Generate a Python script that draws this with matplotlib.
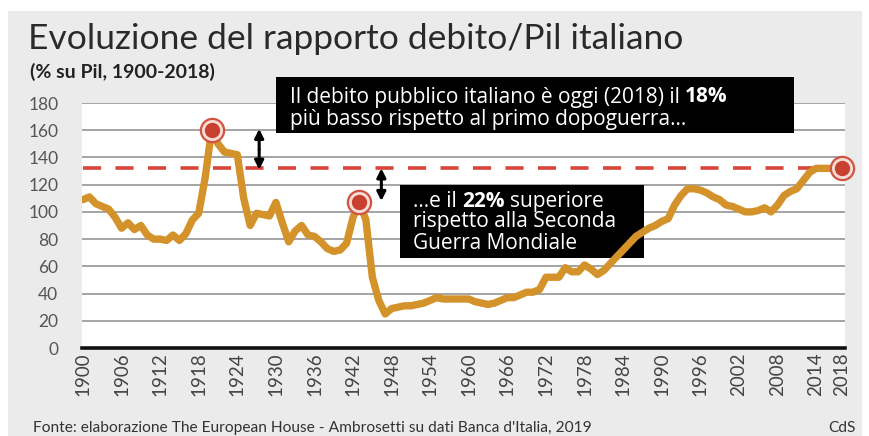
import matplotlib
matplotlib.use("Agg")
import matplotlib.pyplot as plt
from matplotlib.patches import Rectangle

# debito/Pil italiano, valori
years = list(range(1900, 2019))
debt = [109, 111, 106, 104, 102, 96, 88, 92, 87, 90,
        83, 80, 80, 79, 83, 79, 84, 94, 99, 125,
        160, 150, 144, 143, 142, 110, 90, 99, 98, 97,
        107, 92, 78, 86, 90, 83, 82, 78, 73, 71,
        72, 77, 96, 107, 94, 52, 35, 25, 29, 30,
        31, 31, 32, 33, 35, 37, 36, 36, 36, 36,
        36, 34, 33, 32, 33, 35, 37, 37, 39, 41,
        41, 43, 52, 52, 52, 59, 56, 56, 61, 58,
        54, 57, 62, 67, 72, 77, 82, 85, 88, 90,
        93, 95, 105, 112, 117, 117, 116, 114, 111, 109,
        105, 104, 102, 100, 100, 101, 103, 100, 105, 112,
        115, 117, 123, 129, 132, 132, 132, 132, 132]
highlight_years = [1920, 1943, 2018]
ref_level = 132
xtick_years = list(range(1900, 2015, 6)) + [2018]

W, H = 870, 436
FONT = "Lato"
BOXFONT = "Open Sans"
LINE = "#d4922a"


def fx(px):
    return px / W


def fy(py):
    return 1 - py / H


fig = plt.figure(figsize=(W / 100, H / 100), dpi=100)
fig.patch.set_facecolor("white")
fig.patches.append(Rectangle((fx(8), 0), fx(854), fy(11), transform=fig.transFigure,
                             facecolor="#ebebeb", edgecolor="none", zorder=-10))

ax = fig.add_axes([fx(82), fy(348), fx(845) - fx(82), fy(103) - fy(348)])
ax.set_facecolor("white")
ax.set_xlim(1899.85, 2018.5)
ax.set_ylim(0, 180)

for v in range(20, 181, 20):
    ax.axhline(v, color="#8c8c8c", lw=1.1, zorder=1)
for s in ["top", "right", "left"]:
    ax.spines[s].set_visible(False)
ax.spines["bottom"].set_linewidth(2.6)
ax.spines["bottom"].set_color("#111111")
ax.spines["bottom"].set_zorder(5)

ax.set_yticks(range(0, 181, 20))
ax.set_xticks(xtick_years)
ax.set_xticklabels([str(y) for y in xtick_years], rotation=90)
ax.tick_params(axis="y", length=0, pad=17, labelsize=12.5, labelcolor="#555555")
ax.tick_params(axis="x", length=0, pad=3, labelsize=13.5, labelcolor="#444444")
for lab in ax.get_xticklabels() + ax.get_yticklabels():
    lab.set_fontfamily(FONT)

# linea tratteggiata al livello del 2018
ax.plot([years[0], years[-1]], [ref_level, ref_level], color="#d8453a", lw=2.6,
        dashes=(5, 4), zorder=2)

ax.plot(years, debt, color=LINE, lw=5.3, solid_joinstyle="round",
        solid_capstyle="round", zorder=4)

hv = [debt[years.index(y)] for y in highlight_years]
ax.scatter(highlight_years, hv, s=280, facecolor="#f6dcd5", edgecolor="#cf5443",
           lw=1.6, zorder=6, clip_on=False)
ax.scatter(highlight_years, hv, s=100, color="#c8402f", zorder=7, clip_on=False)

# frecce doppie
arrow_style = dict(arrowstyle="-|>", color="black", lw=2.2, mutation_scale=13,
                   shrinkA=0, shrinkB=0)
for xa, top, bottom in [(1927.4, 161, 131), (1946.4, 132, 108)]:
    mid = (top + bottom) / 2
    ax.annotate("", xy=(xa, top), xytext=(xa, mid), arrowprops=arrow_style, zorder=8)
    ax.annotate("", xy=(xa, bottom), xytext=(xa, mid), arrowprops=arrow_style, zorder=8)

# riquadri neri
box1 = Rectangle((fx(276), fy(133)), fx(794) - fx(276), fy(77) - fy(133),
                 transform=fig.transFigure, facecolor="black", edgecolor="none", zorder=2)
fig.patches.append(box1)
box2 = Rectangle((fx(400), fy(258)), fx(644) - fx(400), fy(185) - fy(258),
                 transform=fig.transFigure, facecolor="black", edgecolor="none",
                 zorder=3, clip_on=False)
ax.add_patch(box2)

renderer = fig.canvas.get_renderer()


def width_px(s, weight, size):
    t = fig.text(0, 0, s, fontsize=size, fontfamily=BOXFONT, fontweight=weight)
    w = t.get_window_extent(renderer).width
    t.remove()
    return w


def rich(px, py, parts, size=15, color="white", target=None):
    space = width_px("a a", "normal", size) - width_px("aa", "normal", size)
    x = px
    for s, weight in parts:
        if target is None:
            t = fig.text(fx(x), fy(py), s, fontsize=size, fontfamily=BOXFONT,
                         fontweight=weight, color=color, va="center", zorder=10)
        else:
            t = ax.text(fx(x), fy(py), s, fontsize=size, fontfamily=BOXFONT,
                        fontweight=weight, color=color, va="center", zorder=10,
                        transform=fig.transFigure, clip_on=False)
        x += t.get_window_extent(renderer).width + space


rich(290, 97, [("Il debito pubblico italiano è oggi (2018) il", "normal"), ("18%", "bold")])
rich(290, 119, [("più basso rispetto al primo dopoguerra...", "normal")])
rich(413, 201, [("...e il", "normal"), ("22%", "bold"), ("superiore", "normal")], target=ax)
rich(413, 222, [("rispetto alla Seconda", "normal")], target=ax)
rich(413, 243, [("Guerra Mondiale", "normal")], target=ax)

# titoli e note
fig.text(fx(28), fy(39), "Evoluzione del rapporto debito/Pil italiano", fontsize=25.5,
         fontfamily=FONT, fontweight="normal", color="#2a2a2a", va="center")
fig.text(fx(30), fy(72), "(% su Pil, 1900-2018)", fontsize=14, fontfamily=FONT,
         fontweight="bold", color="#222222", va="center")
fig.text(fx(33), fy(428), "Fonte: elaborazione The European House - Ambrosetti su dati Banca d'Italia, 2019",
         fontsize=11.2, fontfamily=FONT, color="#333333", va="center")
fig.text(fx(856), fy(428), "CdS", fontsize=11.2, fontfamily=FONT, color="#333333",
         va="center", ha="right")

fig.savefig("out.png", dpi=100)
